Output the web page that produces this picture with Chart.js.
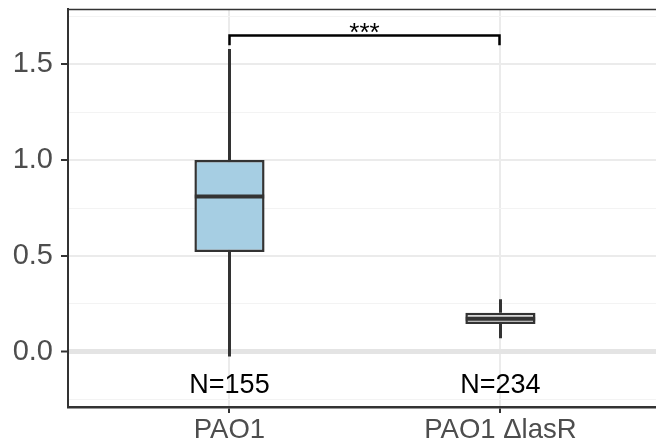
<!DOCTYPE html>
<html>
<head>
<meta charset="utf-8">
<script src="https://cdn.jsdelivr.net/npm/chart.js@4"></script>
<style>
  html, body { margin: 0; padding: 0; overflow: hidden; background: #fff; }
  #wrap { position: absolute; left: 0; top: 0; width: 663px; height: 443px; }
</style>
</head>
<body>
<div id="wrap"><canvas id="chart"></canvas></div>
<script>
// Box plot values
const categories = ["PAO1", "PAO1 \u0394lasR"];
const whiskerLow = [-0.025, 0.07];
const boxLow = [0.52, 0.145];
const medians = [0.81, 0.172];
const boxHigh = [1.0, 0.203];
const whiskerHigh = [1.58, 0.273];
const counts = [155, 234];
const boxFills = ["#a6cee3", "#dcdcdc"];

// Axis ticks
const yMajorTicks = [0, 0.5, 1.0, 1.5];
const yMinorTicks = [-0.25, 0.25, 0.75, 1.25, 1.75];
const yTickLabels = ["0.0", "0.5", "1.0", "1.5"];

// Significance bracket between the two groups
const signifText = "***";
const bracketY = 1.65;
const bracketTipY = 1.60;
const signifTextY = 1.624;
const countLabelY = -0.217;

const FONT = "'Liberation Sans', Arial, Helvetica, sans-serif";
const DARK = "#333333";

const isMajor = v => yMajorTicks.some(t => Math.abs(t - v) < 1e-9);

// Whiskers, medians, bracket and N labels drawn through the chart scales
const boxPlotExtras = {
  id: "boxPlotExtras",
  beforeDatasetsDraw(chart) {
    const { ctx, scales: { x, y } } = chart;
    ctx.save();
    ctx.strokeStyle = DARK;
    ctx.lineWidth = 3;
    categories.forEach((c, i) => {
      const px = Math.round(x.getPixelForValue(i + 1)) + 0.5;
      ctx.beginPath();
      ctx.moveTo(px, y.getPixelForValue(whiskerHigh[i]));
      ctx.lineTo(px, y.getPixelForValue(boxHigh[i]));
      ctx.moveTo(px, y.getPixelForValue(boxLow[i]));
      ctx.lineTo(px, y.getPixelForValue(whiskerLow[i]));
      ctx.stroke();
    });
    ctx.restore();
  },
  afterDatasetsDraw(chart) {
    const { ctx, chartArea, scales: { x, y } } = chart;
    ctx.save();

    // medians
    ctx.strokeStyle = DARK;
    ctx.lineWidth = 4;
    medians.forEach((m, i) => {
      const py = y.getPixelForValue(m);
      ctx.beginPath();
      ctx.moveTo(x.getPixelForValue(i + 1 - 0.128), py);
      ctx.lineTo(x.getPixelForValue(i + 1 + 0.128), py);
      ctx.stroke();
    });

    // bracket
    const x1 = Math.round(x.getPixelForValue(1)) + 0.5;
    const x2 = Math.round(x.getPixelForValue(2)) - 0.5;
    const by = y.getPixelForValue(bracketY);
    const ty = y.getPixelForValue(bracketTipY);
    ctx.strokeStyle = "#000";
    ctx.lineWidth = 2.5;
    ctx.lineJoin = "miter";
    ctx.beginPath();
    ctx.moveTo(x1, ty);
    ctx.lineTo(x1, by);
    ctx.lineTo(x2, by);
    ctx.lineTo(x2, ty);
    ctx.stroke();

    ctx.fillStyle = "#000";
    ctx.textAlign = "center";
    ctx.textBaseline = "alphabetic";
    ctx.font = "26px " + FONT;
    ctx.fillText(signifText, (x1 + x2) / 2, y.getPixelForValue(signifTextY));

    // sample sizes
    ctx.font = "27px " + FONT;
    counts.forEach((n, i) => {
      ctx.fillText("N=" + n, x.getPixelForValue(i + 1), y.getPixelForValue(countLabelY));
    });

    // top panel border
    ctx.strokeStyle = DARK;
    ctx.lineWidth = 1.5;
    ctx.beginPath();
    ctx.moveTo(chartArea.left, chartArea.top + 0.5);
    ctx.lineTo(chartArea.right, chartArea.top + 0.5);
    ctx.stroke();
    ctx.restore();
  }
};

new Chart(document.getElementById("chart"), {
  type: "bar",
  data: {
    datasets: [{
      data: categories.map((c, i) => ({ x: i + 1, y: [boxLow[i], boxHigh[i]] })),
      backgroundColor: boxFills,
      borderColor: DARK,
      borderWidth: 2.5,
      borderSkipped: false,
      barPercentage: 0.259,
      categoryPercentage: 1
    }]
  },
  options: {
    responsive: true,
    maintainAspectRatio: false,
    animation: false,
    layout: { autoPadding: false, padding: { top: 9, right: 0, left: 0, bottom: 0 } },
    plugins: { legend: { display: false }, tooltip: { enabled: false } },
    scales: {
      x: {
        type: "linear",
        min: 0.404,
        max: 2.6,
        offset: false,
        afterBuildTicks: s => { s.ticks = categories.map((c, i) => ({ value: i + 1 })); },
        afterFit: s => { s.height = 36; s.paddingLeft = 0; s.paddingRight = 0; },
        grid: {
          offset: false,
          color: "#ebebeb",
          lineWidth: 2,
          tickColor: DARK,
          tickWidth: 2,
          tickLength: 6
        },
        border: { color: DARK, width: 2.5 },
        ticks: {
          autoSkip: false,
          maxRotation: 0,
          padding: 1,
          color: "#4d4d4d",
          font: { family: FONT, size: 27.5 },
          callback: v => categories[Math.round(v) - 1]
        }
      },
      y: {
        type: "linear",
        min: -0.289,
        max: 1.789,
        afterBuildTicks: s => {
          s.ticks = yMajorTicks.concat(yMinorTicks).sort((a, b) => a - b).map(v => ({ value: v }));
        },
        afterFit: s => { s.width = 68; s.paddingTop = 0; s.paddingBottom = 0; },
        grid: {
          color: ctx => ctx.tick.value === 0 ? "#e4e4e4" : (isMajor(ctx.tick.value) ? "#ebebeb" : "#f3f3f3"),
          lineWidth: ctx => ctx.tick.value === 0 ? 5 : (isMajor(ctx.tick.value) ? 2 : 1),
          tickColor: ctx => isMajor(ctx.tick.value) ? DARK : "rgba(0,0,0,0)",
          tickWidth: 2,
          tickLength: 7
        },
        border: { color: DARK, width: 2 },
        ticks: {
          autoSkip: false,
          padding: 8,
          color: "#4d4d4d",
          font: { family: FONT, size: 29 },
          callback: v => {
            const k = yMajorTicks.findIndex(t => Math.abs(t - v) < 1e-9);
            return k >= 0 ? yTickLabels[k] : "";
          }
        }
      }
    }
  },
  plugins: [boxPlotExtras]
});
</script>
</body>
</html>
